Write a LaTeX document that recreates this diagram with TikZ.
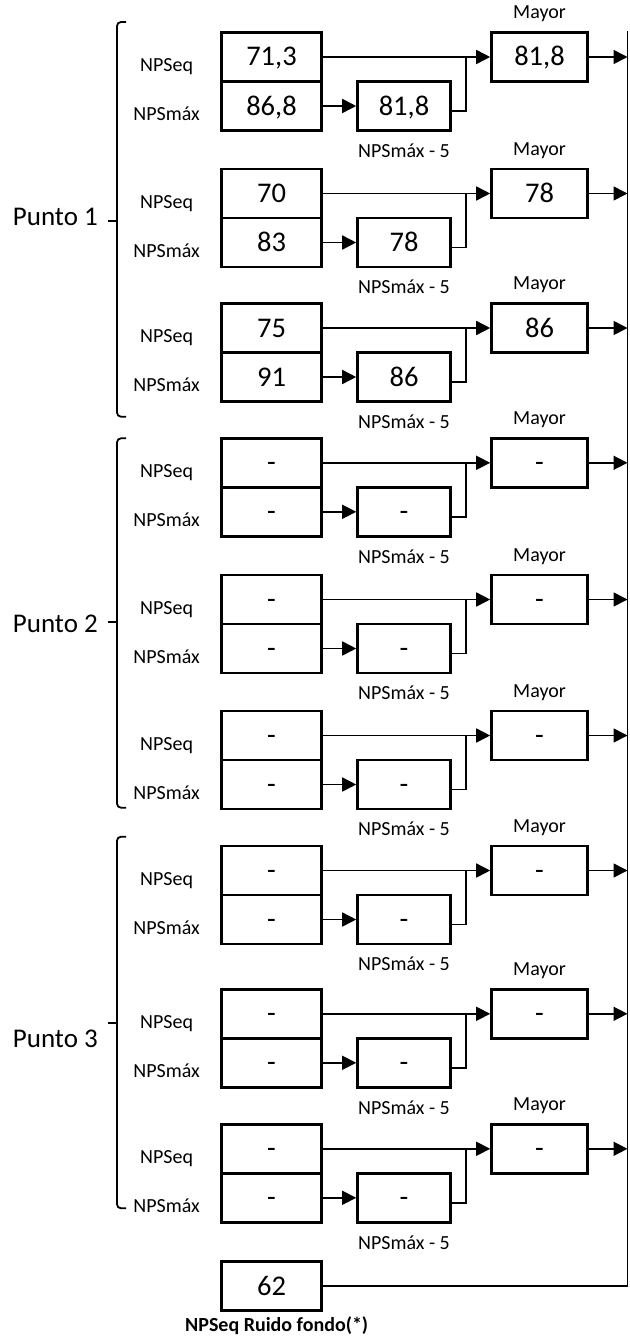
\documentclass[tikz,border=0pt]{standalone}
\usepackage{fontspec}
\setmainfont{Carlito}
\usetikzlibrary{arrows.meta,positioning}
\tikzset{
	caja/.style={draw, line width=2.6pt, minimum width=100pt, minimum height=49pt, inner sep=0pt,
		text height=18pt, text depth=0pt, font=\fontsize{28.5}{30}\selectfont},
	etiq/.style={anchor=base, inner sep=0pt, font=\fontsize{20}{22}\selectfont},
	linea/.style={line width=1.6pt},
	flecha/.style={linea, -{Triangle[length=14pt,width=14pt]}},
	llave/.style={line width=1.8pt, rounded corners=4pt}
}
% grupo: nombre, y superior, NPSeq, NPSmax, NPSmax-5, mayor
\def\grupo#1#2#3#4#5#6{%
	\node[caja] (#1eq) at (271.5,#2+24.5) {#3};
	\node[caja] (#1max) at (271.5,#2+73.5) {#4};
	\node[caja, minimum width=93pt] (#1cinco) at (404,#2+73.5) {#5};
	\node[caja, minimum width=96pt] (#1may) at (539.5,#2+24.5) {#6};
	\node[etiq] (#1teq) at (166.6,#2+39.4) {NPSeq};
	\node[etiq] (#1tmax) at (166.6,#2+88.4) {NPSmáx};
	\node[etiq] (#1tcinco) at ([yshift=-25.5pt]#1cinco.south) {NPSmáx - 5};
	\node[etiq] (#1tmay) at ([yshift=12.5pt]#1may.north) {Mayor};
	\coordinate (#1j) at (466,#2+24.5);
	\draw[flecha] (#1eq.east) -- (#1may.west);
	\draw[flecha] (#1max.east) -- (#1cinco.west);
	\draw[linea] ([yshift=-5pt]#1cinco.east) -| (#1j);
	\draw[flecha] (#1may.east) -- (#1may.east -| barra);
}

\begin{document}
\begin{tikzpicture}[x=1pt, y=-1pt]
		\useasboundingbox (0,0) rectangle (629,1338);
		\coordinate (barra) at (627.5,0);
		
		%%%%% PUNTO 1 %%%%%
		\grupo{a}{32.5}{71,3}{86,8}{81,8}{81,8}
		\grupo{b}{169}{70}{83}{78}{78}
		\grupo{c}{303.5}{75}{91}{86}{86}
		\draw[llave] (126,22) -- (117,22) -- (117,416.7) -- (126,416.7);
		\draw[llave] (117,221) -- (108,221);
		\node[anchor=base east, inner sep=0pt, font=\fontsize{27}{29}\selectfont] (p1) at (98,225) {Punto 1};
		
		%%%%% PUNTO 2 %%%%%
		\grupo{d}{438.3}{-}{-}{-}{-}
		\grupo{e}{575}{-}{-}{-}{-}
		\grupo{f}{711}{-}{-}{-}{-}
		\draw[llave] (126,438.3) -- (117,438.3) -- (117,807.7) -- (126,807.7);
		\draw[llave] (117,621.7) -- (108,621.7);
		\node[anchor=base east, inner sep=0pt, font=\fontsize{27}{29}\selectfont] (p2) at (98,632) {Punto 2};
		
		%%%%% PUNTO 3 %%%%%
		\grupo{g}{846}{-}{-}{-}{-}
		\grupo{h}{989.3}{-}{-}{-}{-}
		\grupo{i}{1124.3}{-}{-}{-}{-}
		\draw[llave] (126,836.7) -- (117,836.7) -- (117,1208.3) -- (126,1208.3);
		\draw[llave] (117,1022.7) -- (108,1022.7);
		\node[anchor=base east, inner sep=0pt, font=\fontsize{27}{29}\selectfont] (p3) at (98,1047) {Punto 3};
		
		%%%%% RUIDO DE FONDO %%%%%
		\node[caja] (ruido) at (271.5,1286) {62};
		\node[etiq, anchor=base west, font=\fontsize{20}{22}\selectfont\bfseries] (truido) at (185,1331.7) {NPSeq Ruido fondo(*)};
		\draw[linea] (ruido.east) -- (ruido.east -| barra);
		\draw[line width=1.8pt] (amay.north -| barra) -- (ruido.east -| barra);
	\end{tikzpicture}
\end{document}
